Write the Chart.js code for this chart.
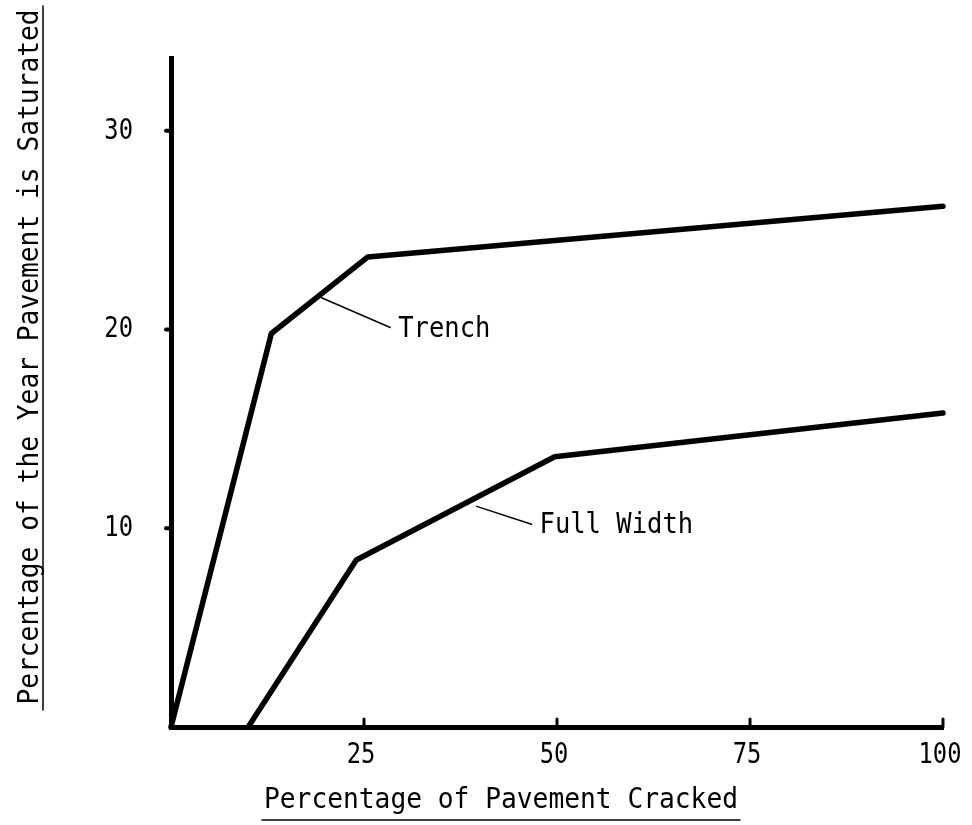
<!DOCTYPE html>
<html>
<head>
<meta charset="utf-8">
<script src="https://cdn.jsdelivr.net/npm/chart.js@4/dist/chart.umd.min.js"></script>
<style>
  html, body { margin: 0; padding: 0; background: #fff; }
</style>
</head>
<body>
<canvas id="satChart" width="972" height="825"></canvas>
<script>
// saturation vs. cracking, two repair types
const trenchX = [0, 13, 25.5, 100];
const trenchY = [0, 19.8, 23.65, 26.2];
const fullX = [10, 24, 49.7, 100];
const fullY = [0, 8.4, 13.6, 15.8];

const xTickValues = [25, 50, 75, 100];
const yTickValues = [10, 20, 30];

const xTitle = "Percentage of Pavement Cracked";
const yTitle = "Percentage of the Year Pavement is Saturated";

// label text, leader start (on the curve) and leader end, in data units
const notes = [
    { text: "Trench", from: [19.5, 21.6], to: [28.4, 20.1] },
    { text: "Full Width", from: [39.6, 11.1], to: [46.7, 10.2] }
];

const FONT = "29px 'DejaVu Sans Mono'";
const INK = "#000";

function toPoints(xs, ys) {
    return xs.map((x, i) => ({ x: x, y: ys[i] }));
}

// text squeezed horizontally, typewriter style
function squeezed(ctx, str, x, y, align, sx) {
    ctx.save();
    ctx.translate(x, y);
    ctx.scale(sx, 1);
    ctx.textAlign = align;
    ctx.textBaseline = "alphabetic";
    ctx.fillText(str, 0, 0);
    ctx.restore();
}

const paperText = {
    id: "paperText",
    afterDraw(chart) {
        const ctx = chart.ctx;
        const xs = chart.scales.x;
        const ys = chart.scales.y;
        const area = chart.chartArea;

        ctx.save();
        ctx.strokeStyle = INK;
        ctx.fillStyle = INK;
        ctx.font = FONT;
        ctx.lineCap = "round";

        /* ---- tick marks: x inward, y outward ---- */
        ctx.lineWidth = 3;
        xTickValues.forEach(v => {
            const px = xs.getPixelForValue(v);
            ctx.beginPath();
            ctx.moveTo(px, area.bottom);
            ctx.lineTo(px, area.bottom - 8);
            ctx.stroke();
        });
        ctx.lineWidth = 4;
        yTickValues.forEach(v => {
            const py = ys.getPixelForValue(v);
            ctx.beginPath();
            ctx.moveTo(area.left, py);
            ctx.lineTo(area.left - 5, py);
            ctx.stroke();
        });

        /* ---- tick labels ---- */
        xTickValues.forEach(v => {
            squeezed(ctx, String(v), xs.getPixelForValue(v) - 3, area.bottom + 36, "center", 0.82);
        });
        yTickValues.forEach(v => {
            squeezed(ctx, String(v), 133, ys.getPixelForValue(v) + 8, "right", 0.82);
        });

        /* ---- leaders + curve names ---- */
        ctx.lineWidth = 1.5;
        notes.forEach(n => {
            const x0 = xs.getPixelForValue(n.from[0]);
            const y0 = ys.getPixelForValue(n.from[1]);
            const x1 = xs.getPixelForValue(n.to[0]);
            const y1 = ys.getPixelForValue(n.to[1]);
            ctx.beginPath();
            ctx.moveTo(x0, y0);
            ctx.lineTo(x1, y1);
            ctx.stroke();
            squeezed(ctx, n.text, x1 + 8, y1 + 9, "left", 0.88);
        });

        /* ---- axis titles, underlined ---- */
        squeezed(ctx, xTitle, 501, 808, "center", 0.905);
        ctx.lineWidth = 1.5;
        ctx.beginPath();
        ctx.moveTo(262, 820);
        ctx.lineTo(740, 820);
        ctx.stroke();

        ctx.save();
        ctx.translate(38, 357);
        ctx.rotate(-Math.PI / 2);
        squeezed(ctx, yTitle, 0, 0, "center", 0.905);
        ctx.restore();
        ctx.beginPath();
        ctx.moveTo(43, 6);
        ctx.lineTo(43, 710);
        ctx.stroke();

        ctx.restore();
    }
};

const lineStyle = {
    showLine: true,
    borderColor: INK,
    borderWidth: 5.5,
    pointRadius: 0,
    tension: 0,
    fill: false,
    clip: false,
    borderJoinStyle: "round",
    borderCapStyle: "round"
};

new Chart(document.getElementById("satChart"), {
    type: "scatter",
    data: {
        datasets: [
            Object.assign({ label: "Trench", data: toPoints(trenchX, trenchY) }, lineStyle),
            Object.assign({ label: "Full Width", data: toPoints(fullX, fullY) }, lineStyle)
        ]
    },
    options: {
        responsive: false,
        animation: false,
        layout: { padding: { left: 0, right: 29, top: 58, bottom: 0 } },
        plugins: {
            legend: { display: false },
            tooltip: { enabled: false }
        },
        scales: {
            x: {
                type: "linear",
                min: 0,
                max: 100,
                ticks: { display: false },
                grid: { display: false },
                border: { display: true, color: INK, width: 5 },
                afterFit(s) { s.height = 98; }
            },
            y: {
                type: "linear",
                min: 0,
                max: 33.66,
                ticks: { display: false },
                grid: { display: false },
                border: { display: true, color: INK, width: 5 },
                afterFit(s) { s.width = 171; }
            }
        }
    },
    plugins: [paperText]
});
</script>
</body>
</html>
